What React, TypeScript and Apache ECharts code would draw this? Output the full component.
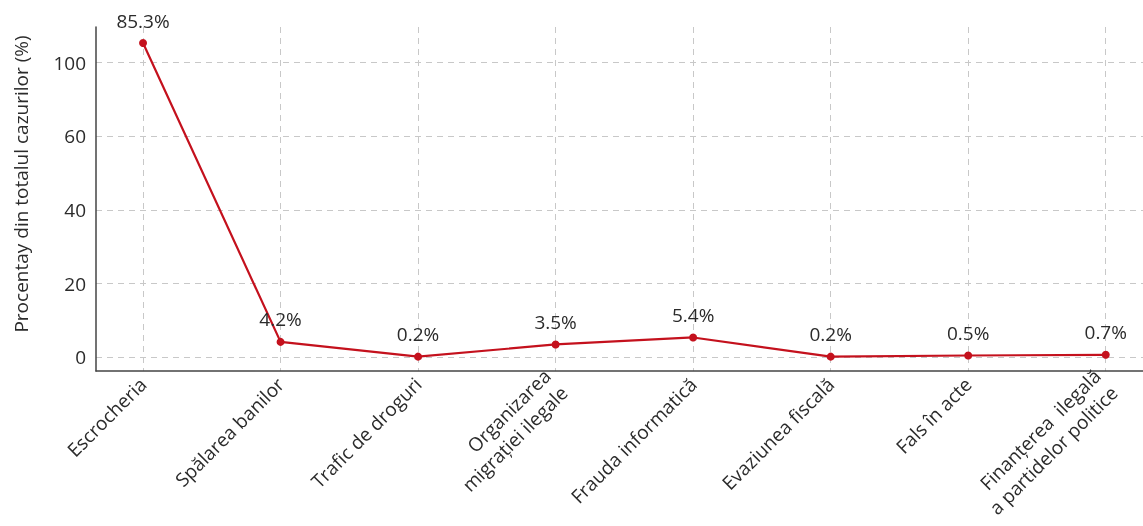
import React, { useEffect, useRef } from "react";
import * as echarts from "echarts";

const categories = [
  "Escrocheria",
  "Spălarea banilor",
  "Trafic de droguri",
  "Organizarea\nmigrației ilegale",
  "Frauda informatică",
  "Evaziunea fiscală",
  "Fals în acte",
  "Finanțerea  ilegală\na partidelor politice",
];
const values = [85.3, 4.2, 0.2, 3.5, 5.4, 0.2, 0.5, 0.7];
const yTickValues = [0, 20, 40, 60, 80];
const yTickLabels = ["0", "20", "40", "60", "100"];
const yAxisTitle = "Procentay din totalul cazurilor (%)";

const FONT = "'Open Sans', 'Noto Sans', sans-serif";
const RED = "#c4111d";
const TEXT = "#2b2b2b";
const FS = 19;

export default function App() {
  const ref = useRef<HTMLDivElement>(null);
  useEffect(() => {
    if (!ref.current) return;
    const chart = echarts.init(ref.current, null, { renderer: "svg" });
    const idx = categories.map((_, i) => i);
    chart.setOption({
      animation: false,
      textStyle: { fontFamily: FONT },
      grid: { left: 96, right: 0, top: 27, bottom: 155, containLabel: false },
      xAxis: {
        type: "value",
        min: -0.342,
        max: 7.271,
        axisLine: { show: true, onZero: false, lineStyle: { color: "#444", width: 1.5 } },
        axisTick: { show: false, customValues: idx },
        axisLabel: {
          customValues: idx,
          rotate: 45,
          margin: 10,
          fontSize: FS,
          lineHeight: 24,
          color: TEXT,
          fontFamily: FONT,
          formatter: (v: number) => categories[Math.round(v)] ?? "",
        },
        splitLine: {
          show: true,
          lineStyle: { color: "#c8c8c8", type: [6, 5], width: 1 },
        },
      },
      yAxis: {
        type: "value",
        min: -3.7,
        max: 89.65,
        axisLine: { show: true, onZero: false, lineStyle: { color: "#444", width: 1.5 } },
        axisTick: { show: false, customValues: yTickValues },
        axisLabel: {
          customValues: yTickValues,
          margin: 10,
          fontSize: FS,
          color: TEXT,
          fontFamily: FONT,
          formatter: (v: number) => {
            const i = yTickValues.indexOf(v);
            return i >= 0 ? yTickLabels[i] : "";
          },
        },
        splitLine: {
          show: true,
          lineStyle: { color: "#c8c8c8", type: [6, 5], width: 1 },
        },
      },
      graphic: [
        {
          type: "text",
          x: 21,
          y: 184,
          rotation: Math.PI / 2,
          style: {
            text: yAxisTitle,
            fill: TEXT,
            fontSize: FS,
            fontFamily: FONT,
            align: "center",
            verticalAlign: "middle",
          },
        },
      ],
      series: [
        {
          type: "line",
          data: values.map((v, i) => [i, v]),
          symbol: "circle",
          symbolSize: 8,
          lineStyle: { color: RED, width: 2.2 },
          itemStyle: { color: RED },
          label: {
            show: true,
            position: "top",
            distance: 9,
            fontSize: FS,
            color: TEXT,
            fontFamily: FONT,
            formatter: (p: any) => values[p.dataIndex].toFixed(1) + "%",
          },
        },
      ],
    });
    return () => chart.dispose();
  }, []);
  return (
    <div
      ref={ref}
      style={{ position: "fixed", left: 0, top: 0, width: 1143, height: 526 }}
    />
  );
}
